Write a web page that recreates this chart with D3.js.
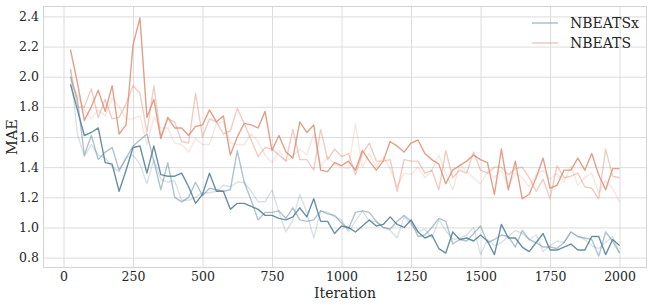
<!DOCTYPE html>
<html>
<head>
<meta charset="utf-8">
<script src="https://cdn.jsdelivr.net/npm/d3@7"></script>
<style>
  body { margin: 0; background: #fff; }
  svg { display: block; font-family: 'DejaVu Serif', serif; }
</style>
</head>
<body>
<svg width="654" height="305"></svg>
<script>
// evaluation points every 25 iterations
const iterations = d3.range(25, 2001, 25)

const nbeatsxRun1 = [1.95, 1.78, 1.61, 1.63, 1.66, 1.43, 1.42, 1.24, 1.38, 1.53, 1.54, 1.36, 1.54, 1.35, 1.34, 1.34, 1.36, 1.27, 1.16, 1.22,
  1.36, 1.24, 1.24, 1.12, 1.16, 1.16, 1.14, 1.12, 1.08, 1.08, 1.06, 1.05, 1.07, 1.13, 1.07, 1.19, 1.04, 1.04, 0.96, 1.01,
  1.00, 0.97, 1.01, 1.05, 1.01, 1.02, 1.07, 1.02, 1.00, 1.05, 0.97, 0.93, 0.95, 0.86, 0.83, 0.97, 0.92, 0.93, 0.91, 0.95,
  0.91, 0.82, 1.02, 0.93, 0.93, 0.87, 0.84, 0.90, 0.96, 0.85, 0.85, 0.87, 0.89, 0.85, 0.85, 0.94, 0.94, 0.82, 0.92, 0.88]
const nbeatsxRun2 = [2.00, 1.85, 1.48, 1.61, 1.45, 1.50, 1.53, 1.38, 1.46, 1.54, 1.58, 1.62, 1.44, 1.25, 1.43, 1.20, 1.17, 1.20, 1.30, 1.21,
  1.26, 1.25, 1.24, 1.25, 1.51, 1.30, 1.18, 1.05, 1.10, 1.10, 1.11, 1.06, 1.13, 1.05, 1.04, 1.05, 1.11, 1.09, 1.08, 1.03,
  0.99, 1.10, 1.11, 1.10, 1.04, 1.00, 0.99, 1.04, 1.08, 1.04, 0.94, 0.95, 1.00, 1.06, 1.04, 0.89, 0.92, 0.91, 0.96, 1.01,
  0.90, 0.92, 0.95, 0.94, 0.87, 0.98, 0.92, 0.90, 0.87, 0.87, 0.86, 0.90, 0.97, 0.94, 0.93, 0.92, 0.81, 0.97, 0.91, 0.83]
const nbeatsxRun3 = [2.05, 1.62, 1.47, 1.55, 1.48, 1.46, 1.40, 1.37, 1.46, 1.48, 1.42, 1.29, 1.45, 1.32, 1.30, 1.31, 1.18, 1.18, 1.20, 1.23,
  1.23, 1.24, 1.28, 1.27, 1.30, 1.30, 1.24, 1.17, 1.17, 1.25, 1.10, 0.97, 1.05, 1.22, 1.10, 0.93, 1.11, 1.10, 1.07, 1.05,
  0.97, 1.04, 1.11, 1.04, 1.04, 1.00, 0.98, 0.93, 1.07, 1.02, 0.97, 0.99, 0.93, 1.05, 0.98, 0.92, 0.93, 0.95, 1.00, 0.82,
  0.92, 0.88, 0.90, 0.94, 0.98, 0.96, 0.92, 0.95, 0.84, 0.88, 0.91, 0.90, 0.97, 0.94, 0.92, 0.88, 0.86, 0.90, 0.94, 0.83]

const nbeatsRun1 = [2.18, 1.96, 1.71, 1.80, 1.91, 1.77, 1.94, 1.62, 1.68, 2.21, 2.39, 1.73, 1.85, 1.59, 1.73, 1.66, 1.66, 1.61, 1.67, 1.68,
  1.78, 1.70, 1.74, 1.48, 1.60, 1.69, 1.68, 1.66, 1.77, 1.51, 1.61, 1.50, 1.46, 1.70, 1.63, 1.68, 1.38, 1.37, 1.43, 1.41,
  1.44, 1.38, 1.51, 1.44, 1.38, 1.44, 1.57, 1.54, 1.50, 1.56, 1.58, 1.49, 1.45, 1.42, 1.29, 1.38, 1.41, 1.44, 1.48, 1.45,
  1.43, 1.22, 1.52, 1.25, 1.44, 1.19, 1.22, 1.33, 1.46, 1.26, 1.28, 1.38, 1.38, 1.46, 1.38, 1.49, 1.35, 1.25, 1.39, 1.39]
const nbeatsRun2 = [2.05, 1.80, 1.80, 1.92, 1.73, 1.85, 1.72, 1.73, 1.82, 1.94, 1.89, 1.63, 1.94, 1.60, 1.72, 1.70, 1.57, 1.56, 1.89, 1.60,
  1.72, 1.70, 1.62, 1.64, 1.79, 1.69, 1.58, 1.47, 1.53, 1.52, 1.48, 1.44, 1.65, 1.45, 1.45, 1.38, 1.65, 1.45, 1.52, 1.47,
  1.49, 1.35, 1.49, 1.56, 1.44, 1.44, 1.45, 1.24, 1.45, 1.44, 1.44, 1.36, 1.38, 1.25, 1.51, 1.33, 1.38, 1.36, 1.50, 1.38,
  1.36, 1.40, 1.40, 1.35, 1.39, 1.40, 1.33, 1.24, 1.32, 1.19, 1.41, 1.33, 1.34, 1.36, 1.27, 1.26, 1.19, 1.52, 1.34, 1.33]
const nbeatsRun3 = [1.98, 1.88, 1.78, 1.72, 1.78, 1.74, 1.86, 1.80, 1.72, 1.72, 1.74, 1.55, 1.73, 1.66, 1.66, 1.56, 1.55, 1.50, 1.59, 1.55,
  1.55, 1.69, 1.70, 1.56, 1.55, 1.55, 1.62, 1.57, 1.48, 1.43, 1.51, 1.44, 1.47, 1.52, 1.48, 1.62, 1.40, 1.47, 1.42, 1.40,
  1.39, 1.69, 1.40, 1.49, 1.40, 1.47, 1.39, 1.27, 1.36, 1.35, 1.40, 1.33, 1.38, 1.48, 1.36, 1.25, 1.42, 1.37, 1.33, 1.29,
  1.37, 1.33, 1.38, 1.27, 1.36, 1.33, 1.27, 1.35, 1.38, 1.32, 1.36, 1.30, 1.41, 1.28, 1.33, 1.36, 1.23, 1.31, 1.26, 1.17]

const xTicks = [0, 250, 500, 750, 1000, 1250, 1500, 1750, 2000]
const yTicks = [0.8, 1.0, 1.2, 1.4, 1.6, 1.8, 2.0, 2.2, 2.4]

const models = [
  { name: 'NBEATSx', color: '#4f7b93', runs: [nbeatsxRun1, nbeatsxRun2, nbeatsxRun3] },
  { name: 'NBEATS', color: '#dd8f75', runs: [nbeatsRun1, nbeatsRun2, nbeatsRun3] },
]
const runOpacity = [0.85, 0.45, 0.22]

const width = 654
const height = 305
const margin = { top: 6, right: 7, bottom: 37, left: 43 }

const svg = d3.select('svg')

// matplotlib style 5% padding around the data
const pad = (lo, hi) => [lo - (hi - lo) * 0.05, hi + (hi - lo) * 0.05]
const allValues = models.flatMap(m => m.runs.flat())
const x = d3.scaleLinear()
  .domain(pad(d3.min(iterations), d3.max(iterations)))
  .range([margin.left, width - margin.right])
const y = d3.scaleLinear()
  .domain(pad(d3.min(allValues), d3.max(allValues)))
  .range([height - margin.bottom, margin.top])

const plot = svg.append('g')

plot.append('g')
  .attr('transform', `translate(0, ${ height - margin.bottom })`)
  .call(d3.axisBottom(x).tickValues(xTicks).tickSize(-(height - margin.top - margin.bottom)).tickPadding(4).tickFormat(d3.format('d')))
  .call(g => g.select('.domain').remove())

plot.append('g')
  .attr('transform', `translate(${ margin.left }, 0)`)
  .call(d3.axisLeft(y).tickValues(yTicks).tickSize(-(width - margin.left - margin.right)).tickPadding(4).tickFormat(d3.format('.1f')))
  .call(g => g.select('.domain').remove())

plot.selectAll('.tick line').attr('stroke', '#dcdcdc').attr('stroke-width', 1)
plot.selectAll('.tick text').attr('fill', '#262626').attr('font-size', 12.5).attr('font-family', 'DejaVu Serif')

svg.append('rect')
  .attr('x', margin.left + 0.5)
  .attr('y', margin.top + 0.5)
  .attr('width', width - margin.left - margin.right - 1)
  .attr('height', height - margin.top - margin.bottom - 1)
  .attr('fill', 'none')
  .attr('stroke', '#d4d4d4')

const line = d3.line()
  .x((d, i) => x(iterations[i]))
  .y(d => y(d))

const lines = svg.append('g')
models.forEach(m => {
  m.runs.slice().reverse().forEach((run, j) => {
    const k = m.runs.length - 1 - j
    lines.append('path')
      .datum(run)
      .attr('d', line)
      .attr('fill', 'none')
      .attr('stroke', m.color)
      .attr('stroke-opacity', runOpacity[k])
      .attr('stroke-width', 1.4)
      .attr('stroke-linejoin', 'round')
  })
})

// axis titles
svg.append('text')
  .attr('x', (margin.left + width - margin.right) / 2)
  .attr('y', 298)
  .attr('text-anchor', 'middle')
  .attr('font-size', 14)
  .attr('fill', '#262626')
  .text('Iteration')

svg.append('text')
  .attr('transform', `translate(17, ${ (margin.top + height - margin.bottom) / 2 }) rotate(-90)`)
  .attr('text-anchor', 'middle')
  .attr('font-size', 14.5)
  .attr('fill', '#262626')
  .text('MAE')

// legend
const legend = svg.append('g')
  .attr('transform', 'translate(532, 23)')
const items = legend.selectAll('g')
  .data(models)
  .join('g')
  .attr('transform', (d, i) => `translate(0, ${ i * 20 })`)
items.append('line')
  .attr('x1', 0).attr('x2', 26)
  .attr('stroke', d => d.color)
  .attr('stroke-opacity', 0.5)
  .attr('stroke-width', 1.4)
items.append('text')
  .attr('x', 38)
  .attr('dy', '0.35em')
  .attr('font-size', 14)
  .attr('fill', '#262626')
  .text(d => d.name)
</script>
</body>
</html>
